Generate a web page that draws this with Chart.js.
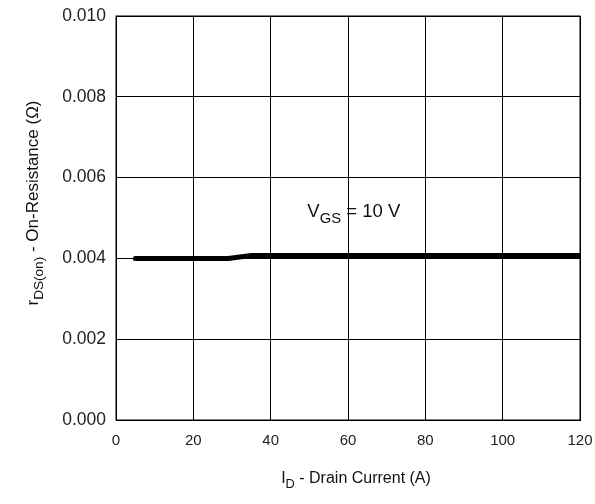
<!DOCTYPE html>
<html>
<head>
<meta charset="utf-8">
<script src="https://cdn.jsdelivr.net/npm/chart.js@4"></script>
<style>
  html, body { margin: 0; padding: 0; background: #fff; }
  #wrap { width: 595px; height: 504px; position: relative; }
</style>
</head>
<body>
<div id="wrap"><canvas id="mainChart" width="595" height="504"></canvas></div>
<script>
  // drain current (A) and on-resistance (ohm)
  var drainCurrent = [5, 10, 20, 29, 35, 40, 60, 80, 100, 120];
  var rdsOn = [0.0040, 0.0040, 0.0040, 0.0040, 0.00407, 0.00407, 0.00407, 0.00407, 0.00407, 0.00407];
  var xTicks = [0, 20, 40, 60, 80, 100, 120];
  var yTicks = [0.000, 0.002, 0.004, 0.006, 0.008, 0.010];
  var noteX = 61.5, noteY = 0.00502;

  var FONT = '"Liberation Sans", Arial, Helvetica, sans-serif';

  // draws text pieces with subscripts, centred on x: [[text, isSub], ...]
  function drawRich(ctx, parts, x, y, size) {
    var w = 0;
    parts.forEach(function (p) {
      ctx.font = (p[1] ? size * 0.8 : size) + 'px ' + FONT;
      w += ctx.measureText(p[0]).width;
    });
    var cx = x - w / 2;
    parts.forEach(function (p) {
      ctx.font = (p[1] ? size * 0.8 : size) + 'px ' + FONT;
      ctx.fillText(p[0], cx, p[1] ? y + size * 0.3 : y);
      cx += ctx.measureText(p[0]).width;
    });
  }

  function noPad(s) {
    s.paddingLeft = 0; s.paddingRight = 0; s.paddingTop = 0; s.paddingBottom = 0;
  }

  var labelsPlugin = {
    id: 'labels',
    afterDraw: function (c) {
      var ctx = c.ctx;
      ctx.save();
      ctx.fillStyle = '#111';
      ctx.textBaseline = 'alphabetic';
      ctx.textAlign = 'left';
      // x title
      drawRich(ctx, [['I', false], ['D', true], [' - Drain Current (A)', false]], 356, 483, 16);
      // y title
      ctx.translate(38, 203);
      ctx.rotate(-Math.PI / 2);
      drawRich(ctx, [['r', false], ['DS(on)', true], [' - On-Resistance (\u03A9)', false]], 0, 0, 17);
      ctx.restore();
      // annotation
      ctx.save();
      ctx.fillStyle = '#111';
      ctx.textBaseline = 'alphabetic';
      ctx.textAlign = 'left';
      var px = c.scales.x.getPixelForValue(noteX);
      var py = c.scales.y.getPixelForValue(noteY);
      drawRich(ctx, [['V', false], ['GS', true], [' = 10 V', false]], px, py, 18.5);
      ctx.restore();
    }
  };

  new Chart(document.getElementById('mainChart').getContext('2d'), {
    type: 'line',
    data: {
      datasets: [{
        data: drainCurrent.map(function (x, i) { return { x: x, y: rdsOn[i] }; }),
        borderColor: '#000',
        borderWidth: 5,
        borderCapStyle: 'round',
        borderJoinStyle: 'round',
        pointRadius: 0,
        tension: 0,
        fill: false
      }]
    },
    options: {
      responsive: false,
      animation: false,
      layout: { padding: { left: 0, right: 15, top: 16, bottom: 0 } },
      plugins: { legend: { display: false }, tooltip: { enabled: false } },
      scales: {
        x: {
          type: 'linear', min: 0, max: 120,
          afterBuildTicks: function (s) { s.ticks = xTicks.map(function (v) { return { value: v }; }); },
          afterFit: function (s) { s.height = 84; noPad(s); },
          grid: { color: '#000', lineWidth: 1, drawTicks: false },
          border: { color: '#000', width: 1 },
          ticks: { color: '#222', padding: 12, maxRotation: 0, font: { family: FONT, size: 15 } }
        },
        y: {
          type: 'linear', min: 0, max: 0.010,
          afterBuildTicks: function (s) { s.ticks = yTicks.map(function (v) { return { value: v }; }); },
          afterFit: function (s) { s.width = 116; noPad(s); },
          grid: { color: '#000', lineWidth: 1, drawTicks: false },
          border: { color: '#000', width: 1 },
          ticks: {
            color: '#222', padding: 10, font: { family: FONT, size: 17.5 },
            callback: function (v) { return v.toFixed(3); }
          }
        }
      }
    },
    plugins: [labelsPlugin, {
      id: 'frame',
      afterDatasetsDraw: function (c) {
        var a = c.chartArea, ctx = c.ctx;
        ctx.save();
        ctx.strokeStyle = '#000';
        ctx.lineWidth = 1;
        ctx.strokeRect(a.left, a.top, a.right - a.left, a.bottom - a.top);
        ctx.restore();
      }
    }]
  });
</script>
</body>
</html>
